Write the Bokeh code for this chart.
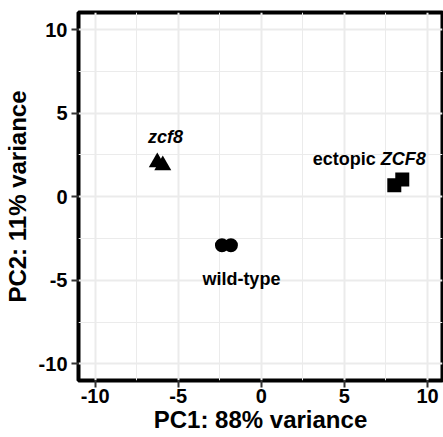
from bokeh.plotting import figure
from bokeh.models import Range1d, FixedTicker, ColumnDataSource
from bokeh.core.properties import value
from bokeh.embed import file_html
from bokeh.resources import INLINE

# ---- data ----
groups = ["zcf8", "zcf8", "wild-type", "wild-type", "ectopic ZCF8", "ectopic ZCF8"]
pc1 = [-6.26, -5.93, -2.37, -1.83, 8.00, 8.48]
pc2 = [2.06, 1.87, -2.91, -2.91, 0.69, 1.03]
markers = ["triangle", "triangle", "circle", "circle", "square", "square"]
sizes = [17, 17, 14, 14, 14, 14]

x_title = "PC1: 88% variance"
y_title = "PC2: 11% variance"
major_ticks = [-10, -5, 0, 5, 10]
tick_labels = ["-10", "-5", "0", "5", "10"]
minor_ticks = [-7.5, -2.5, 2.5, 7.5]

# group label annotations
lab_text = ["zcf8", "wild-type"]
lab_x = [-5.77, -1.20]
lab_y = [3.55, -4.92]
ect_plain = "ectopic"
ect_ital = "ZCF8"
ect_x = 7.04
ect_y = 2.25

FONT = "Liberation Sans"

p = figure(width=443, height=437, output_backend="svg", toolbar_location=None,
           x_range=Range1d(-11.0, 10.9), y_range=Range1d(-11.0, 11.02),
           min_border_left=78, min_border_right=1, min_border_top=12, min_border_bottom=57)
p.background_fill_color = "white"
p.border_fill_color = "white"
p.outline_line_color = "black"
p.outline_line_width = 4

overrides = {t: s for t, s in zip(major_ticks, tick_labels)}
for ax in (p.xaxis[0], p.yaxis[0]):
    ax.ticker = FixedTicker(ticks=major_ticks, minor_ticks=minor_ticks)
    ax.major_label_overrides = overrides
    ax.axis_line_color = None
    ax.major_tick_line_color = "#333333"
    ax.major_tick_line_width = 2
    ax.major_tick_in = 0
    ax.major_tick_out = 7
    ax.minor_tick_line_color = None
    ax.major_label_text_font = FONT
    ax.major_label_text_font_style = "bold"
    ax.major_label_text_font_size = "20px"
    ax.major_label_text_color = "black"
    ax.axis_label_text_font = FONT
    ax.axis_label_text_font_style = "bold"
    ax.axis_label_text_font_size = "24px"
    ax.axis_label_text_color = "black"

p.xaxis.axis_label = x_title
p.yaxis.axis_label = y_title
p.xaxis.major_label_standoff = 1
p.yaxis.major_label_standoff = 4
p.xaxis.axis_label_standoff = 0
p.yaxis.axis_label_standoff = 5

for g in p.grid:
    g.grid_line_color = "#EBEBEB"
    g.grid_line_width = 2
    g.minor_grid_line_color = "#EBEBEB"
    g.minor_grid_line_width = 1

src = ColumnDataSource(dict(x=pc1, y=pc2, marker=markers, size=sizes, group=groups))
p.scatter(x="x", y="y", marker="marker", size="size", source=src,
          fill_color="black", line_color=None)

p.text(x=lab_x[:1], y=lab_y[:1], text=lab_text[:1], text_font=value(FONT),
       text_font_style="bold italic", text_font_size="18px", text_align="center",
       text_baseline="alphabetic", text_color="black")
p.text(x=lab_x[1:], y=lab_y[1:], text=lab_text[1:], text_font=value(FONT),
       text_font_style="bold", text_font_size="18px", text_align="center",
       text_baseline="alphabetic", text_color="black")
p.text(x=[ect_x], y=[ect_y], text=[ect_plain], text_font=value(FONT),
       text_font_style="bold", text_font_size="18px", text_align="right",
       text_baseline="alphabetic", text_color="black", x_offset=-2.5)
p.text(x=[ect_x], y=[ect_y], text=[ect_ital], text_font=value(FONT),
       text_font_style="bold italic", text_font_size="18px", text_align="left",
       text_baseline="alphabetic", text_color="black", x_offset=2.5)

open("out.html", "w").write(file_html(p, INLINE))
